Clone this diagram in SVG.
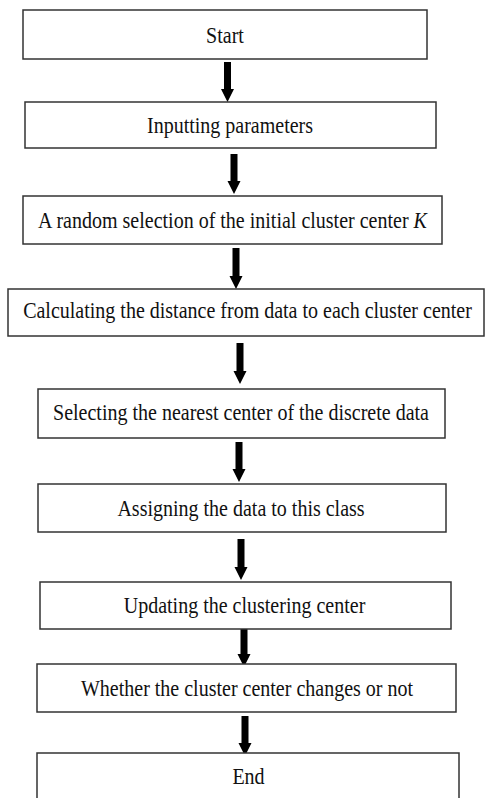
<svg xmlns="http://www.w3.org/2000/svg" width="485" height="798" viewBox="0 0 485 798">
<style>
.box{fill:#ffffff;stroke:#333333;stroke-width:1.5}
.lbl{font-family:"Liberation Serif","Times New Roman",serif;font-size:23px;fill:#111111;text-anchor:middle}
.arr{fill:#000000}
</style>
<rect x="0" y="0" width="485" height="798" fill="#ffffff"/>
<g id="connectors">
<path class="arr" d="M224,62 H231 V89 H234 L227.5,102 L221,89 H224 Z"/>
<path class="arr" d="M230.5,154 H237.5 V181 H240.5 L234,194 L227.5,181 H230.5 Z"/>
<path class="arr" d="M232.5,248 H239.5 V276 H242.5 L236,289 L229.5,276 H232.5 Z"/>
<path class="arr" d="M236.5,343 H243.5 V371 H246.5 L240,384 L233.5,371 H236.5 Z"/>
<path class="arr" d="M235.5,442 H242.5 V469 H245.5 L239,482 L232.5,469 H235.5 Z"/>
<path class="arr" d="M237.5,539 H244.5 V567 H247.5 L241,580 L234.5,567 H237.5 Z"/>
<path class="arr" d="M240.5,627 H247.5 V654 H250.5 L244,667 L237.5,654 H240.5 Z"/>
<path class="arr" d="M241.5,716 H248.5 V743 H251.5 L245,756 L238.5,743 H241.5 Z"/>
</g>
<g id="n1"><rect class="box" x="23" y="10" width="404" height="49"/><text class="lbl" transform="translate(225,43) scale(0.87,1)">Start</text></g>
<g id="n2"><rect class="box" x="25" y="102" width="411" height="46"/><text class="lbl" transform="translate(230,133) scale(0.87,1)">Inputting parameters</text></g>
<g id="n3"><rect class="box" x="23" y="196" width="419" height="48"/><text class="lbl" transform="translate(232.5,228) scale(0.87,1)">A random selection of the initial cluster center <tspan font-style="italic">K</tspan></text></g>
<g id="n4"><rect class="box" x="8" y="289" width="476" height="47"/><text class="lbl" transform="translate(247.5,318) scale(0.87,1)">Calculating the distance from data to each cluster center</text></g>
<g id="n5"><rect class="box" x="38" y="389" width="407" height="49"/><text class="lbl" transform="translate(241,420) scale(0.87,1)">Selecting the nearest center of the discrete data</text></g>
<g id="n6"><rect class="box" x="38" y="484" width="408" height="48"/><text class="lbl" transform="translate(241,516) scale(0.87,1)">Assigning the data to this class</text></g>
<g id="n7"><rect class="box" x="40" y="582" width="411" height="47"/><text class="lbl" transform="translate(244.5,613) scale(0.87,1)">Updating the clustering center</text></g>
<g id="n8"><rect class="box" x="37" y="664" width="419" height="48"/><text class="lbl" transform="translate(247,696) scale(0.87,1)">Whether the cluster center changes or not</text></g>
<g id="n9"><rect class="box" x="37" y="753" width="422" height="60"/><text class="lbl" transform="translate(248.5,784) scale(0.87,1)">End</text></g>
</svg>
